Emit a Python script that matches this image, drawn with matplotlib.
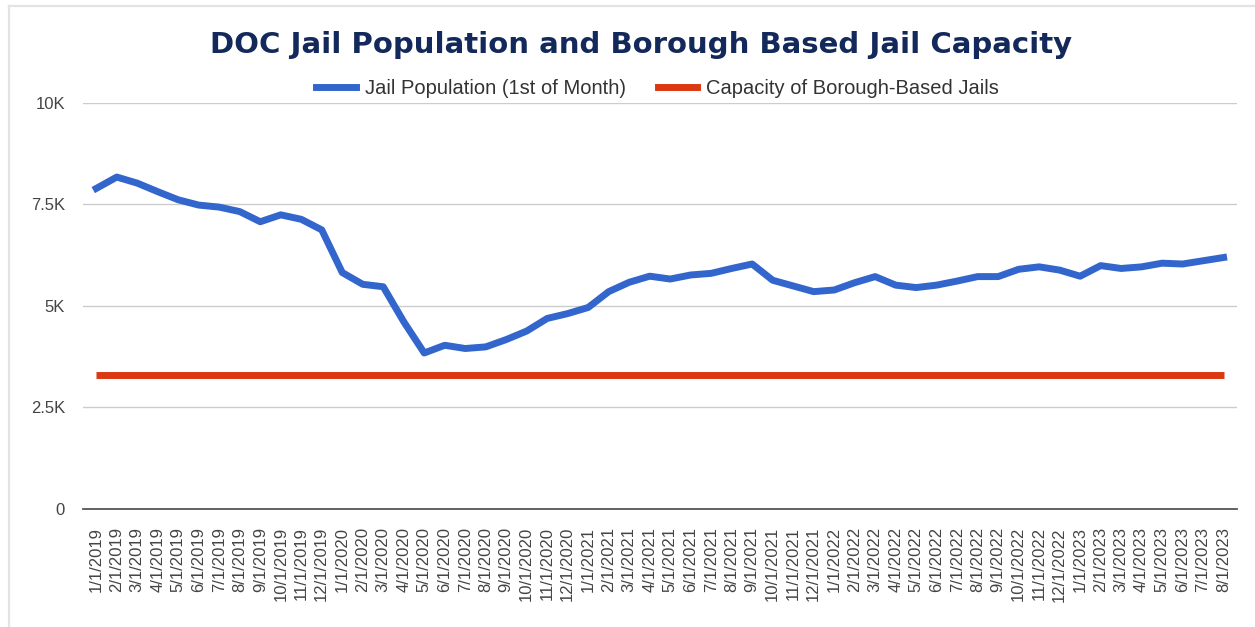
#!/usr/bin/env python3
"""
DOC jail population vs. capacity of the borough-based jails.
"""
import matplotlib
matplotlib.use("Agg")
import matplotlib.pyplot as plt
from matplotlib.lines import Line2D
from matplotlib.ticker import FuncFormatter

plt.rcParams['font.family'] = ['Liberation Sans', 'DejaVu Sans']

# Monthly labels, 1/1/2019 .. 8/1/2023
months = [f"{m}/1/{y}" for y in range(2019, 2024) for m in range(1, 13)][:56]

# Jail population on the 1st of each month
population = [
    7890, 8170, 8020, 7810, 7610, 7480, 7430, 7320, 7070, 7240, 7130, 6870,
    5820, 5530, 5470, 4610, 3840, 4030, 3950, 3990, 4170, 4380, 4690, 4810,
    4960, 5350, 5580, 5730, 5660, 5760, 5800, 5920, 6030, 5630, 5490, 5350,
    5390, 5570, 5720, 5510, 5450, 5510, 5610, 5720, 5720, 5900, 5960, 5880,
    5730, 5990, 5920, 5960, 6050, 6030, 6110, 6190,
]
capacity = [3300] * len(months)

blue = '#3366cc'
red = '#dc3912'
title_color = '#13295b'
text_color = '#444444'


def k_fmt(v, _):
    if v == 0:
        return '0'
    s = f"{v / 1000:.1f}".rstrip('0').rstrip('.')
    return s + 'K'


fig = plt.figure(figsize=(12.55, 6.27), dpi=100)
ax = fig.add_axes([0.0661, 0.1882, 0.9195, 0.648])

x = list(range(len(months)))
ax.plot(x, population, color=blue, lw=5, solid_joinstyle='round', zorder=3)
ax.plot(x, capacity, color=red, lw=5, solid_capstyle='butt', zorder=2)

ax.set_xlim(-0.65, len(months) - 0.35)
ax.set_ylim(0, 10000)
ax.set_yticks([0, 2500, 5000, 7500, 10000])
ax.yaxis.set_major_formatter(FuncFormatter(k_fmt))
ax.set_xticks(x)
ax.set_xticklabels(months, rotation=90, fontsize=12, color=text_color, va='top')
ax.tick_params(axis='y', length=0, pad=13, labelsize=12, labelcolor=text_color)
ax.tick_params(axis='x', length=0, pad=13)

ax.grid(axis='y', color='#cccccc', lw=1)
ax.set_axisbelow(True)
for s in ['top', 'right', 'left']:
    ax.spines[s].set_visible(False)
ax.spines['bottom'].set_color('#555555')
ax.spines['bottom'].set_linewidth(1.3)

# Title + legend
fig.text(0.511, 0.929, 'DOC Jail Population and Borough Based Jail Capacity',
         ha='center', va='center', fontsize=21, fontweight='bold',
         color=title_color, family=['DejaVu Sans'])

handles = [Line2D([], [], color=blue, lw=5),
           Line2D([], [], color=red, lw=5)]
fig.legend(handles, ['Jail Population (1st of Month)', 'Capacity of Borough-Based Jails'],
           loc='center', bbox_to_anchor=(0.524, 0.859), ncol=2, frameon=False,
           fontsize=14.5, handlelength=1.95, handletextpad=0.45, columnspacing=1.6,
           labelcolor='#333333')

# Light frame on left and top (screenshot border)
fig.add_artist(Line2D([0.0068, 0.0068], [0, 0.991], color='#e3e3e3', lw=1.6,
                      transform=fig.transFigure))
fig.add_artist(Line2D([0.0068, 1], [0.991, 0.991], color='#e3e3e3', lw=1.6,
                      transform=fig.transFigure))

fig.savefig('out.png', dpi=100, facecolor='white')
plt.close(fig)
